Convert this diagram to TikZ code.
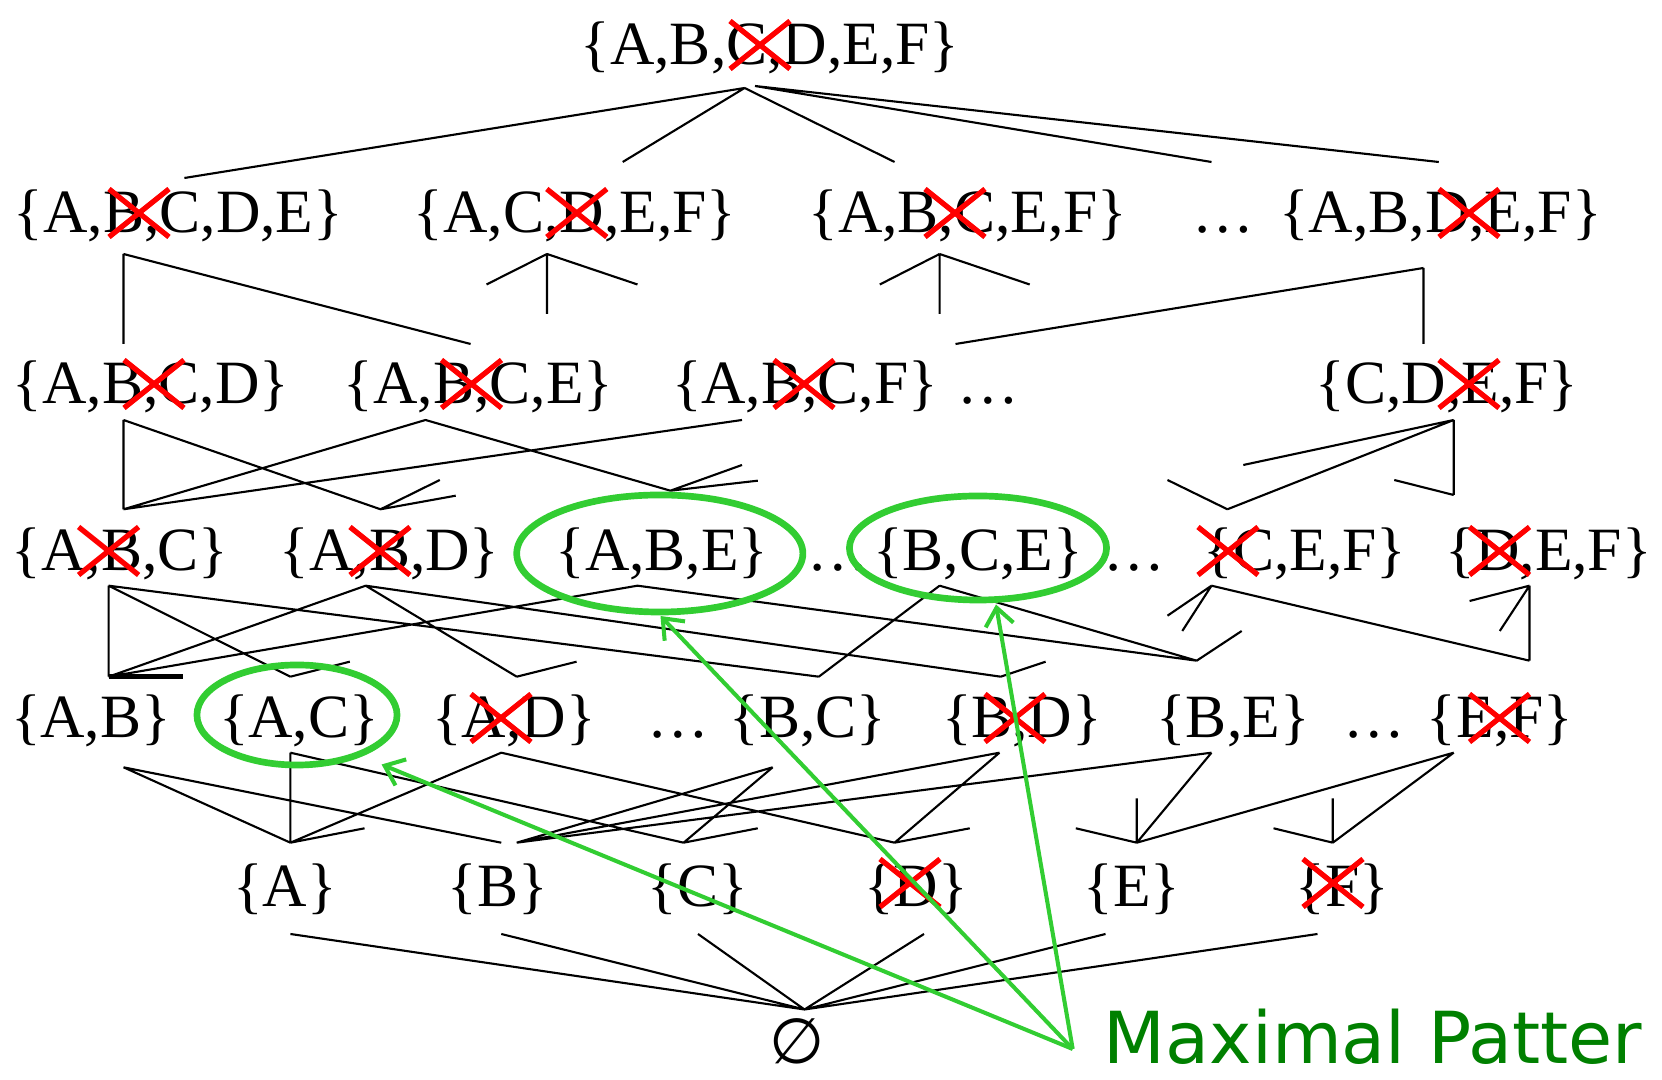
\documentclass[tikz,border=0pt]{standalone}
\usepackage{fontspec}
\setmainfont{Liberation Serif}
\newfontfamily\labelfont{DejaVu Sans}
\usetikzlibrary{arrows.meta}
\definecolor{ringgreen}{RGB}{50,205,50}
\definecolor{textgreen}{RGB}{0,128,0}

\begin{document}
\begin{tikzpicture}[
  x=0.01cm, y=-0.01cm,
  every node/.style={
    inner sep=0pt, anchor=base,
  },
  setlabel/.style={font=\fontsize{17.5}{21}\selectfont},
  hasse/.style={line width=0.6pt},
  maxring/.style={draw=ringgreen, line width=1.9pt},
  pointer/.style={draw=ringgreen, line width=1.15pt, -{Straight Barb[length=5pt,width=8pt]}},
  crossout/.pic={\draw[red, line width=1.5pt] (-30,-24) -- (30,24) (-30,24) -- (30,-24);}
]
\useasboundingbox (0,0) rectangle (1662,1080);
\clip (0,0) rectangle (1662,1080);

\node[setlabel] (abcdef) at (770,65) {\{A,B,C,D,E,F\}};

\node[setlabel] (abcde) at (178.5,233) {\{A,B,C,D,E\}};
\node[setlabel] (acdef) at (575,233) {\{A,C,D,E,F\}};
\node[setlabel] (abcef) at (968,233) {\{A,B,C,E,F\}};
\node[setlabel] (dotsa) at (1223,233) {…};
\node[setlabel] (abdef) at (1440.5,233) {\{A,B,D,E,F\}};

\node[setlabel] (abcd) at (151,404) {\{A,B,C,D\}};
\node[setlabel] (abce) at (478.6,404) {\{A,B,C,E\}};
\node[setlabel] (abcf) at (805,404) {\{A,B,C,F\}};
\node[setlabel] (dotsb) at (988,404) {…};
\node[setlabel] (cdef) at (1447,404) {\{C,D,E,F\}};

\node[setlabel] (abc) at (120,571) {\{A,B,C\}};
\node[setlabel] (abd) at (389.6,571) {\{A,B,D\}};
\node[setlabel] (abe) at (662,571) {\{A,B,E\}};
\node[setlabel] (dotsc) at (838,571) {…};
\node[setlabel] (bce) at (978,571) {\{B,C,E\}};
\node[setlabel] (dotsd) at (1134,571) {…};
\node[setlabel] (cef) at (1305,571) {\{C,E,F\}};
\node[setlabel] (def) at (1548.7,571) {\{D,E,F\}};

\node[setlabel] (ab) at (91,738) {\{A,B\}};
\node[setlabel] (ac) at (299,738) {\{A,C\}};
\node[setlabel] (ad) at (514,738) {\{A,D\}};
\node[setlabel] (dotse) at (678,738) {…};
\node[setlabel] (bc) at (808,738) {\{B,C\}};
\node[setlabel] (bd) at (1022,738) {\{B,D\}};
\node[setlabel] (be) at (1233,738) {\{B,E\}};
\node[setlabel] (dotsf) at (1374,738) {…};
\node[setlabel] (ef) at (1500,738) {\{E,F\}};

\node[setlabel] (a) at (285,907) {\{A\}};
\node[setlabel] (b) at (498,907) {\{B\}};
\node[setlabel] (c) at (698,907) {\{C\}};
\node[setlabel] (d) at (915.8,907) {\{D\}};
\node[setlabel] (e) at (1132,907) {\{E\}};
\node[setlabel] (f) at (1342.5,907) {\{F\}};

\node[font=\labelfont\fontsize{18}{22}\selectfont] (empty) at (797,1064) {∅};

\node[anchor=base west, font=\labelfont\fontsize{20.4}{25}\selectfont, text=textgreen] (maxlabel) at (1103,1064) {Maximal Patter};

\pic at (760,45) {crossout};
\pic at (139,213) {crossout};
\pic at (576.8,213) {crossout};
\pic at (955,213) {crossout};
\pic at (1469,213) {crossout};
\pic at (154,384) {crossout};
\pic at (471.5,384) {crossout};
\pic at (804,384) {crossout};
\pic at (1469,384) {crossout};
\pic at (108.6,551) {crossout};
\pic at (380,551) {crossout};
\pic at (1228,551) {crossout};
\pic at (1499.5,551) {crossout};
\pic at (501,718) {crossout};
\pic at (1015,718) {crossout};
\pic at (1499.5,718) {crossout};
\pic at (910,883) {crossout};
\pic at (1333,883) {crossout};

\coordinate (abcdef-s) at (744.6,88);
\coordinate (abcdef-s2) at (755,86);
\coordinate (abcde-n) at (184.4,178);
\coordinate (acdef-n) at (622.7,162);
\coordinate (abcef-n) at (894.6,162);
\coordinate (dotsa-n) at (1211.5,162);
\coordinate (abdef-n) at (1438.8,162);
\path[hasse,draw] (abcdef-s) -- (abcde-n) (abcdef-s) -- (acdef-n) (abcdef-s) -- (abcef-n)
  (abcdef-s2) -- (dotsa-n) (abcdef-s2) -- (abdef-n);

\coordinate (abcde-s) at (123.5,254);
\coordinate (acdef-s) at (547,254);
\coordinate (abcef-s) at (939.6,254);
\coordinate (abdef-s) at (1423.5,268);
\coordinate (abcd-n) at (123.5,344);
\coordinate (abce-n) at (470.6,344);
\coordinate (abcf-n) at (955.5,344);
\coordinate (cdef-n) at (1423.5,344);
\coordinate (acdef-sw) at (486.5,284.5);
\coordinate (acdef-se) at (637.5,284.5);
\coordinate (acdef-sd) at (547,314);
\coordinate (abcef-sw) at (879.8,284.5);
\coordinate (abcef-se) at (1029.7,284.5);
\coordinate (abcef-sd) at (939.6,314);
\path[hasse,draw] (abcde-s) -- (abcd-n) (abcde-s) -- (abce-n)
  (acdef-s) -- (acdef-sw) (acdef-s) -- (acdef-se) (acdef-s) -- (acdef-sd)
  (abcef-s) -- (abcef-sw) (abcef-s) -- (abcef-se) (abcef-s) -- (abcef-sd)
  (abdef-s) -- (cdef-n) (abdef-s) -- (abcf-n);

\coordinate (abcd-s) at (123.5,420);
\coordinate (abce-s) at (425.5,420);
\coordinate (abcf-s) at (742,420);
\coordinate (cdef-s) at (1453.7,420);
\coordinate (abc-n) at (123.5,509.3);
\coordinate (abd-n) at (380.5,509.3);
\coordinate (abe-n) at (670.4,490.7);
\coordinate (cef-n) at (1227.4,509.3);
\coordinate (def-n) at (1453.7,495);
\coordinate (abd-nw) at (439.8,480);
\coordinate (abd-ne) at (455.7,495.7);
\coordinate (abe-nw) at (742,465);
\coordinate (abe-ne) at (757.8,480.7);
\coordinate (cef-nw) at (1167.5,480);
\coordinate (def-nw) at (1394.3,480);
\coordinate (cdef-sw) at (1243.3,465);
\path[hasse,draw] (abcd-s) -- (abc-n) (abcd-s) -- (abd-n)
  (abce-s) -- (abc-n) (abce-s) -- (abe-n) (abcf-s) -- (abc-n)
  (abd-n) -- (abd-nw) (abd-n) -- (abd-ne) (abe-n) -- (abe-nw) (abe-n) -- (abe-ne)
  (cdef-s) -- (cef-n) (cdef-s) -- (def-n) (cdef-s) -- (cdef-sw)
  (cef-n) -- (cef-nw) (def-n) -- (def-nw);

\coordinate (abc-s) at (108.6,585.7);
\coordinate (abd-s) at (365.7,585.7);
\coordinate (abe-s) at (637.5,585.7);
\coordinate (bce-s) at (939.6,585.7);
\coordinate (cef-s) at (1211.5,585.7);
\coordinate (def-s) at (1529.5,585.7);
\coordinate (ab-n) at (108.6,676.7);
\coordinate (ac-n) at (290.4,676.7);
\coordinate (ad-n) at (516.7,676.7);
\coordinate (bc-n) at (818.8,676.7);
\coordinate (bd-n) at (1000.6,676.7);
\coordinate (be-n) at (1196.7,660.7);
\coordinate (ef-n) at (1529.5,660.7);
\coordinate (ab-ne) at (182.8,676.7);
\coordinate (ac-ne) at (349.8,661.7);
\coordinate (ad-ne) at (576.6,661.7);
\coordinate (bd-ne) at (1045.6,661.7);
\coordinate (be-ne) at (1241.7,631);
\coordinate (cef-sw) at (1167.5,615.7);
\coordinate (cef-sd) at (1182.3,631);
\coordinate (def-sw) at (1469.6,601);
\coordinate (def-sd) at (1499.8,631);
\path[hasse,draw] (abc-s) -- (ab-n) (abc-s) -- (ac-n) (abc-s) -- (bc-n)
  (abd-s) -- (ab-n) (abd-s) -- (ad-n) (abd-s) -- (bd-n)
  (abe-s) -- (ab-n) (abe-s) -- (be-n) (bce-s) -- (bc-n) (bce-s) -- (be-n)
  (cef-s) -- (ef-n) (def-s) -- (ef-n)
  (ac-n) -- (ac-ne) (ad-n) -- (ad-ne) (bd-n) -- (bd-ne) (be-n) -- (be-ne)
  (cef-s) -- (cef-sw) (cef-s) -- (cef-sd) (def-s) -- (def-sw) (def-s) -- (def-sd);
\path[draw,line width=1.3pt] (ab-n) -- (ab-ne);

\coordinate (ab-s) at (123.5,767.3);
\coordinate (ac-s) at (290.4,752.7);
\coordinate (ad-s) at (501.3,752.7);
\coordinate (bc-s) at (772.7,767.3);
\coordinate (bd-s) at (999.5,752.7);
\coordinate (be-s) at (1211.5,752.7);
\coordinate (ef-s) at (1453.7,752.7);
\coordinate (a-n) at (290.4,842.7);
\coordinate (b-n) at (501.3,842.7);
\coordinate (b-n2) at (516.7,842.7);
\coordinate (c-n) at (683.6,842.7);
\coordinate (d-n) at (894.6,842.7);
\coordinate (e-n) at (1136.8,842.7);
\coordinate (f-n) at (1332.8,842.7);
\coordinate (a-ne) at (364.6,828.3);
\coordinate (c-ne) at (757.8,828.3);
\coordinate (d-ne) at (969.8,828.3);
\coordinate (e-nw) at (1075.8,828.3);
\coordinate (e-nd) at (1136.8,798.3);
\coordinate (f-nw) at (1273.5,828.3);
\coordinate (f-nd) at (1332.8,798.3);
\path[hasse,draw] (ab-s) -- (a-n) (ab-s) -- (b-n) (ac-s) -- (a-n) (ac-s) -- (c-n)
  (ad-s) -- (a-n) (ad-s) -- (d-n) (bc-s) -- (b-n2) (bc-s) -- (c-n)
  (bd-s) -- (b-n2) (bd-s) -- (d-n) (be-s) -- (b-n2) (be-s) -- (e-n)
  (ef-s) -- (e-n) (ef-s) -- (f-n)
  (a-n) -- (a-ne) (c-n) -- (c-ne) (d-n) -- (d-ne)
  (e-n) -- (e-nw) (e-n) -- (e-nd) (f-n) -- (f-nw) (f-n) -- (f-nd);

\coordinate (a-s) at (290.4,934);
\coordinate (b-s) at (501.3,934);
\coordinate (c-s) at (698,934);
\coordinate (d-s) at (924,934);
\coordinate (e-s) at (1105.5,934);
\coordinate (f-s) at (1317.5,934);
\coordinate (empty-n) at (804.5,1009.5);
\path[hasse,draw] (a-s) -- (empty-n) (b-s) -- (empty-n) (c-s) -- (empty-n)
  (d-s) -- (empty-n) (e-s) -- (empty-n) (f-s) -- (empty-n);

\path[maxring] (297,715) ellipse [x radius=1cm, y radius=0.5cm];
\path[maxring] (659.8,553.5) ellipse [x radius=1.43cm, y radius=0.585cm];
\path[maxring] (978,548) ellipse [x radius=1.285cm, y radius=0.52cm];

\coordinate (pointer-s) at (1072.7,1049);
\coordinate (ac-tip) at (381.6,764.5);
\coordinate (abe-tip) at (660.5,616);
\coordinate (bce-tip) at (996,604.5);
\path[pointer] (pointer-s) -- (ac-tip);
\path[pointer] (pointer-s) -- (abe-tip);
\path[pointer] (pointer-s) -- (bce-tip);
\end{tikzpicture}
\end{document}
